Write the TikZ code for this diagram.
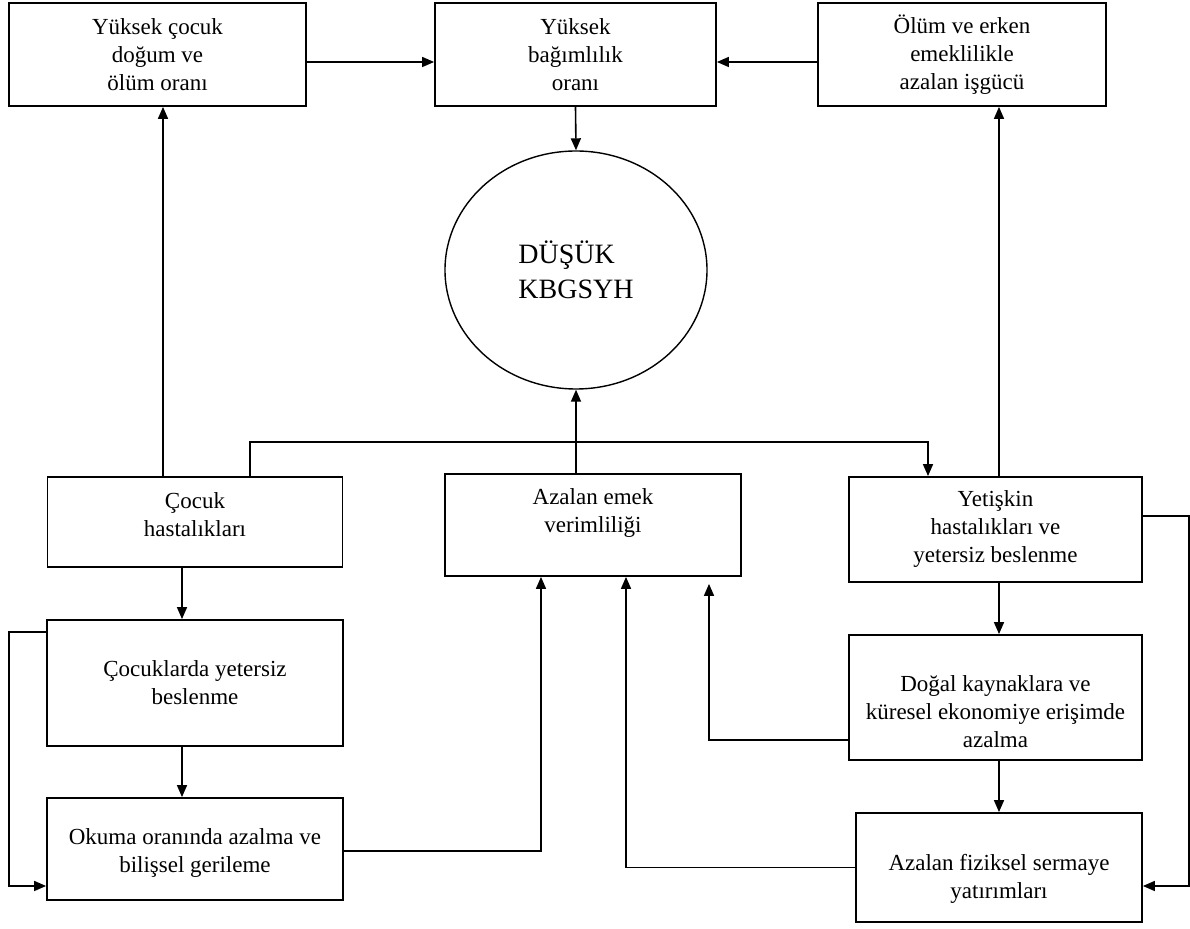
\documentclass[tikz,border=0pt]{standalone}
\usepackage{fontspec}
\setmainfont{Liberation Serif}
\usetikzlibrary{shapes.geometric,arrows.meta}

\begin{document}
\begin{tikzpicture}[x=.5pt,y=-.5pt,>={Triangle[length=6pt,width=5pt]}]
        \useasboundingbox (0,0) rectangle (1190,929);

        \begin{scope}[every node/.style={rectangle,draw,line width=.9pt,align=center,inner sep=0pt,
            font=\fontsize{11.5}{14}\selectfont}]
          \node[minimum width=148.5pt,minimum height=51.5pt] (1) at (157.5,54.5) {Yüksek çocuk\\doğum ve\\ölüm oranı};
          \node[minimum width=140.5pt,minimum height=51.5pt] (2) at (575.5,54.5) {Yüksek\\bağımlılık\\oranı};
          \node[minimum width=144pt,minimum height=51.5pt] (3) at (962,54.5) {Ölüm ve erken\\emeklilikle\\azalan işgücü};
          \node[ellipse,align=left,line width=.7pt,minimum width=131pt,minimum height=119pt,
            font=\fontsize{14}{17.5}\selectfont] (4) at (576,270) {DÜŞÜK\\KBGSYH};
          \node[minimum width=147.5pt,minimum height=45pt,text depth=7pt] (5) at (195,522) {Çocuk\\hastalıkları};
          \node[minimum width=148pt,minimum height=51pt,text depth=14pt] (6) at (593,525) {Azalan emek\\verimliliği};
          \node[minimum width=146.5pt,minimum height=52.5pt] (7) at (995.5,529.5) {Yetişkin\\hastalıkları ve\\yetersiz beslenme};
          \node[minimum width=148pt,minimum height=63pt] (8) at (195,683) {Çocuklarda yetersiz\\beslenme};
          \node[minimum width=146.5pt,minimum height=62.5pt,text height=50pt] (9) at (995.5,697.5) {Doğal kaynaklara ve\\küresel ekonomiye erişimde\\azalma};
          \node[minimum width=148pt,minimum height=51pt,text height=26pt] (10) at (195,849) {Okuma oranında azalma ve\\bilişsel gerileme};
          \node[minimum width=143pt,minimum height=54.5pt,text height=33pt] (11) at (999,867.5) {Azalan fiziksel sermaye\\yatırımları};
        \end{scope}

        \coordinate (bus) at (576,442);

        \begin{scope}[line width=.8pt]

          \begin{scope}[every edge/.style={draw,->}]
            \path ([yshift=-3.75pt]1.east) edge ([yshift=-3.75pt]2.west);
            \path ([yshift=-3.75pt]3.west) edge ([yshift=-3.75pt]2.east);
            \path (2.south) edge (4.north);
            \path (bus |- 6.north) edge (4.south);
            \path ([xshift=-16pt]5.north) edge ([xshift=-16pt]5.north |- 1.south);
            \path ([xshift=-6.5pt]5.south) edge ([xshift=-6.5pt]8.north);
            \path ([xshift=-6.5pt]8.south) edge ([xshift=-6.5pt]10.north);
            \path ([xshift=1.75pt]7.north) edge ([xshift=1.75pt]7.north |- 3.south);
            \path ([xshift=1.75pt]7.south) edge ([xshift=1.75pt]9.north);
            \path ([xshift=1.75pt]9.south) edge ([xshift=1.75pt]9.south |- 11.north);
          \end{scope}

          \draw[->] ([xshift=27.5pt]5.north) |- (bus) -| ([xshift=-33.75pt]7.north);
          \draw[->] ([yshift=-6.5pt]8.north west) -- ++(-18.5pt,0) |- ([yshift=-18.5pt]10.west);
          \draw[->] ([yshift=-1pt]10.east) -| ([xshift=-26pt]6.south);
          \draw[->] (11.west) -| ([xshift=16.5pt]6.south);
          \draw[->] ([yshift=-21.25pt]9.west) -| ([xshift=58pt,yshift=-3.5pt]6.south);
          \draw[->] ([yshift=6.75pt]7.east) -- ++(23pt,0) |- ([yshift=-9.25pt]11.east);
        \end{scope}

      \end{tikzpicture}
\end{document}
